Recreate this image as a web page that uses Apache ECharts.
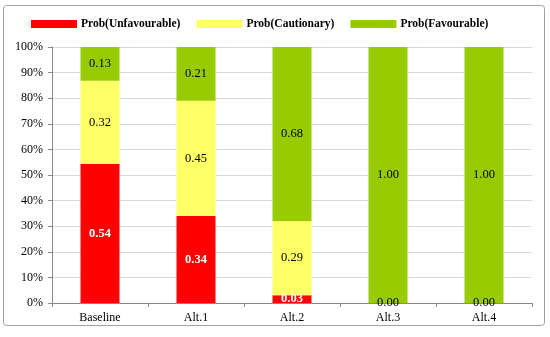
<!DOCTYPE html>
<html><head><meta charset="utf-8">
<script src="https://cdn.jsdelivr.net/npm/echarts@6/dist/echarts.min.js"></script>
<style>html,body{margin:0;padding:0;background:#fff}#c{width:550px;height:337px}</style>
</head><body><div id="c"></div>
<script>
var categories = ['Baseline', 'Alt.1', 'Alt.2', 'Alt.3', 'Alt.4'];
var unfavourable = [0.544, 0.34, 0.03, 0, 0];
var cautionary = [0.324, 0.45, 0.29, 0, 0];
var favourable = [0.132, 0.21, 0.68, 1.00, 1.00];
var yTicks = [0, 0.1, 0.2, 0.3, 0.4, 0.5, 0.6, 0.7, 0.8, 0.9, 1.0];

var FONT = '"Liberation Serif", "Times New Roman", serif';
var chart = echarts.init(document.getElementById('c'));
function lbl(color, bold, showZero) {
  return {
    show: true, position: 'inside', color: color, fontFamily: FONT, fontSize: 12.5,
    fontWeight: bold ? 'bold' : 'normal',
    formatter: function (p) { return (p.value === 0 && !showZero) ? '' : p.value.toFixed(2); }
  };
}
chart.setOption({
  animation: false,
  graphic: [{ type: 'rect', shape: { x: 3.5, y: 5.5, width: 541, height: 320, r: 3 },
    style: { fill: 'none', stroke: '#a0a0a0', lineWidth: 1 }, silent: true }],
  legend: {
    top: 18, left: 31, padding: 0, itemWidth: 46, itemHeight: 8, itemGap: 16,
    icon: 'rect',
    textStyle: { fontFamily: FONT, fontWeight: 'bold', fontSize: 11.5, color: '#000', padding: [0, 0, 0, -1] },
    data: ['Prob(Unfavourable)', 'Prob(Cautionary)', 'Prob(Favourable)']
  },
  grid: { left: 52, right: 18, top: 47, bottom: 34 },
  xAxis: {
    type: 'category', data: categories,
    axisLine: { lineStyle: { color: '#888' } },
    axisTick: { show: true, length: 4, lineStyle: { color: '#888' } },
    axisLabel: { fontFamily: FONT, fontSize: 12, color: '#000', margin: 9 }
  },
  yAxis: {
    type: 'value', min: 0, max: 1, interval: 0.1,
    axisLine: { show: true, lineStyle: { color: '#888' } },
    axisTick: { show: true, length: 4, lineStyle: { color: '#888' } },
    splitLine: { lineStyle: { color: '#d9d9d9' } },
    axisLabel: { fontFamily: FONT, fontSize: 12, color: '#000', margin: 9,
      customValues: yTicks,
      formatter: function (v) { return Math.round(v * 100) + '%'; } }
  },
  series: [
    { name: 'Prob(Unfavourable)', type: 'bar', stack: 's', barWidth: 39, data: unfavourable,
      itemStyle: { color: '#ff0000' }, label: lbl('#fff', true, false) },
    { name: 'Prob(Cautionary)', type: 'bar', stack: 's', barWidth: 39, data: cautionary,
      itemStyle: { color: '#ffff66' }, label: lbl('#000', false, true) },
    { name: 'Prob(Favourable)', type: 'bar', stack: 's', barWidth: 39, data: favourable,
      itemStyle: { color: '#99cc00' }, label: lbl('#000', false, false) }
  ]
});
</script></body></html>
